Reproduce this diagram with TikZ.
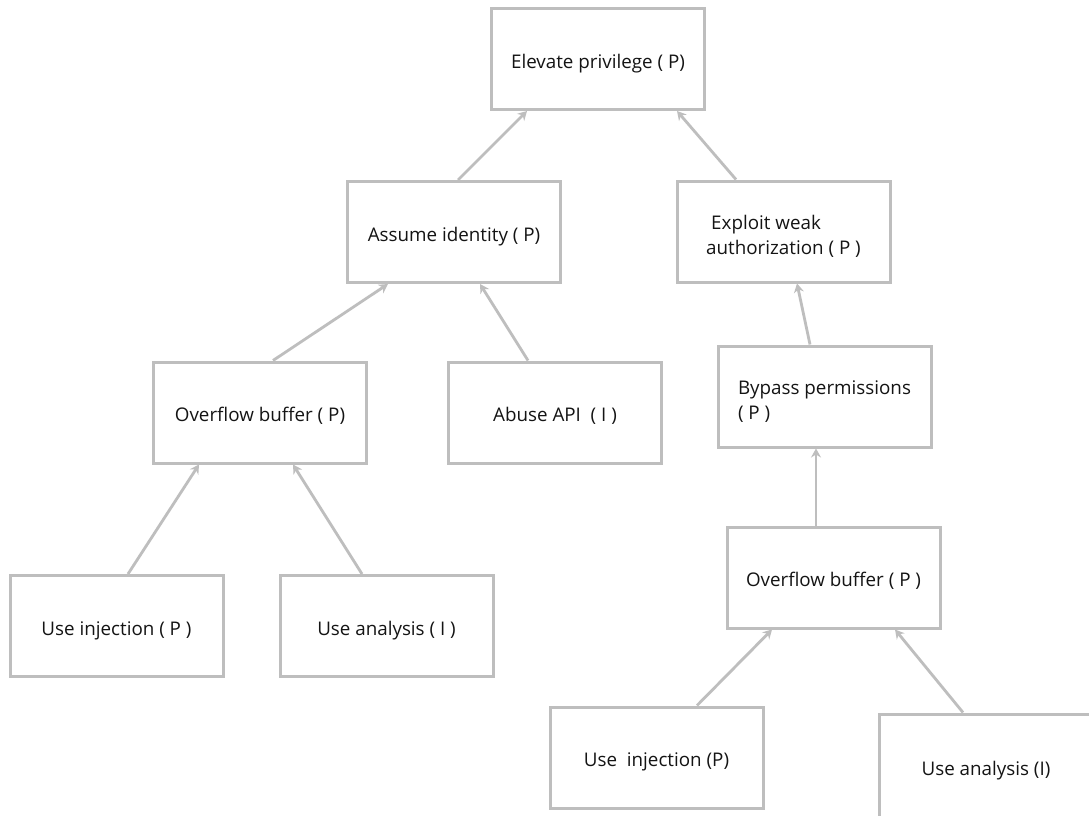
\documentclass[tikz,border=0pt]{standalone}
\usepackage{fontspec}
\setmainfont{Open Sans}
\usetikzlibrary{arrows.meta}
\definecolor{edgegray}{RGB}{190,190,190}
\definecolor{inkgray}{RGB}{20,20,20}
\tikzset{
  box/.style={draw=edgegray, line width=3pt, fill=white, minimum width=213pt,
    minimum height=101pt, inner sep=0pt, text=inkgray,
    text height=18pt, text depth=0pt,
    font=\fontsize{18.8}{25}\selectfont},
  twoline/.style={align=left, text height=45pt, text depth=0pt},
  arr/.style={draw=edgegray, line width=2.8pt,
    -{Stealth[length=9pt, width=10pt, inset=3pt]}}
}
\begin{document}
\begin{tikzpicture}[x=1pt, y=-1pt]
  \useasboundingbox (0,0) rectangle (1089,816);
  \clip (0,0) rectangle (1089,816);
  \fill[white] (0,0) rectangle (1089,816);

  % attack tree nodes
  \node[box] (elev)   at (598,59)      {Elevate privilege ( P)};
  \node[box] (assume) at (454,232)     {Assume identity ( P)};
  \node[box, twoline] (exploit) at (783.5,231.5)
        {\hspace{5pt}Exploit weak\\authorization ( P )};
  \node[box] (ovl)    at (260,412.5)   {Overflow buffer ( P)};
  \node[box] (abuse)  at (555,412.5)   {Abuse API~ ( I )};
  \node[box, twoline] (bypass) at (824.5,396.5)
        {Bypass permissions\\( P )};
  \node[box] (ovr)    at (833.5,577.5) {Overflow buffer ( P )};
  \node[box] (injl)   at (116.5,626)   {Use injection ( P )};
  \node[box] (anal)   at (386.5,626)   {Use analysis ( I )};
  \node[box] (injr)   at (656.5,757.5) {Use~ injection (P)};
  \node[box, minimum width=214pt, minimum height=104pt] (analr) at (986,766)
        {Use analysis (I)};

  % child-to-parent arrows
  \draw[arr] ([xshift=4pt]assume.north)    -- ([xshift=-71pt]elev.south);
  \draw[arr] ([xshift=-47.5pt]exploit.north) -- ([xshift=79pt]elev.south);
  \draw[arr] ([xshift=13pt]ovl.north)      -- ([xshift=-66pt]assume.south);
  \draw[arr] ([xshift=-27pt]abuse.north)   -- ([xshift=26pt]assume.south);
  \draw[arr] ([xshift=-14.5pt]bypass.north) -- ([xshift=13.5pt]exploit.south);
  \draw[arr] ([xshift=-17.5pt]ovr.north)   -- ([xshift=-8.5pt]bypass.south);
  \draw[arr] ([xshift=11.5pt]injl.north)   -- ([xshift=-61pt]ovl.south);
  \draw[arr] ([xshift=-24.5pt]anal.north)  -- ([xshift=33pt]ovl.south);
  \draw[arr] ([xshift=40.5pt]injr.north)   -- ([xshift=-61.5pt]ovr.south);
  \draw[arr] ([xshift=-23pt]analr.north)   -- ([xshift=61.5pt]ovr.south);
\end{tikzpicture}
\end{document}
